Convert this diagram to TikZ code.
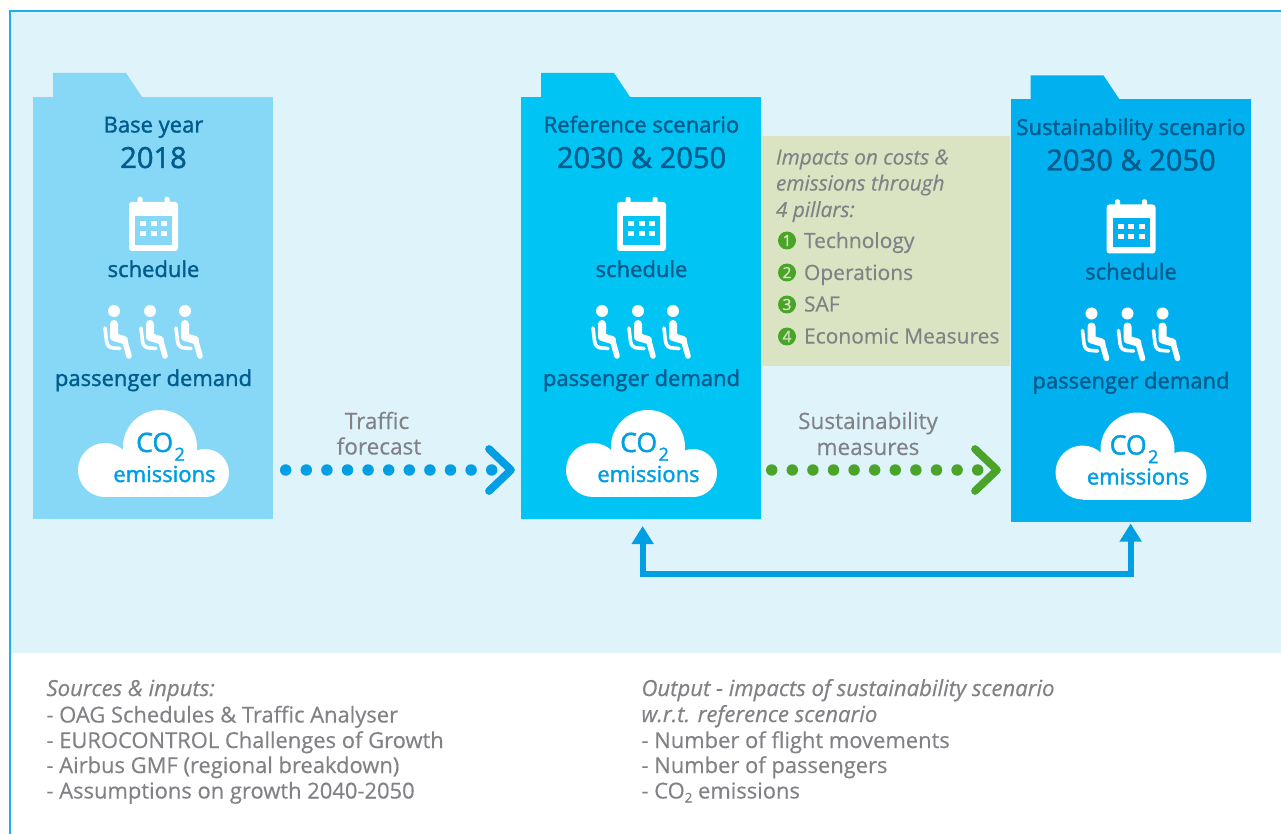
\documentclass[tikz,border=0pt]{standalone}
\usepackage{fontspec}
\setmainfont[FakeBold=0.4]{Open Sans}
\newfontfamily\semi[FakeBold=1.6]{Open Sans}
\usetikzlibrary{arrows.meta,calc}
\definecolor{panel}{HTML}{DFF3FB}
\definecolor{frameblue}{HTML}{1FAEEA}
\definecolor{foldA}{HTML}{87D8F7}
\definecolor{foldB}{HTML}{00C4F4}
\definecolor{foldC}{HTML}{00B0EF}
\definecolor{darktxt}{HTML}{005C8C}
\definecolor{arrowblue}{HTML}{009FE3}
\definecolor{arrowgreen}{HTML}{4BA42A}
\definecolor{greytxt}{HTML}{808285}
\definecolor{sage}{HTML}{DAE4C2}
\tikzset{
  x=0.75pt,y=-0.75pt,
  lbl/.style={anchor=base,inner sep=0pt,outer sep=0pt,align=center},
  head/.style={lbl,text=darktxt,font=\semi\fontsize{16.5}{20}\selectfont},
  year/.style={lbl,text=darktxt,font=\semi\fontsize{21.8}{26}\selectfont},
  item/.style={lbl,text=darktxt,font=\semi\fontsize{16.5}{20}\selectfont},
  co/.style={lbl,text=arrowblue,font=\semi\fontsize{20}{24}\selectfont},
  emis/.style={lbl,text=arrowblue,font=\semi\fontsize{16.5}{20}\selectfont},
  greylbl/.style={lbl,text=greytxt,font=\fontsize{16.9}{20}\selectfont},
  side/.style={lbl,anchor=base west,text=greytxt,font=\fontsize{15.75}{20}\selectfont},
  sidei/.style={side,font=\itshape\fontsize{15.6}{20}\selectfont},
  note/.style={side,font=\fontsize{16.45}{20}\selectfont},
  notei/.style={side,font=\itshape\fontsize{16.6}{20}\selectfont},
  pill/.style={circle,fill=arrowgreen,text=sage,minimum size=13.5pt,inner sep=0pt,font=\semi\fontsize{11.5}{12}\selectfont},
  body/.style={anchor=north west,minimum width=180.2pt,minimum height=316.5pt,inner sep=0pt,outer sep=0pt},
  dotA/.style={circle,fill=arrowblue,minimum size=8.6pt,inner sep=0pt},
  dotB/.style={circle,fill=arrowgreen,minimum size=8.6pt,inner sep=0pt},
  chev/.style={line width=5.8pt,line cap=round,line join=round},
  link/.style={draw=arrowblue,line width=4.5pt,line join=miter,{Triangle[width=15.75pt,length=13.5pt]}-{Triangle[width=15.75pt,length=13.5pt]}},
}
% #1 name, #2 left x, #3 top y, #4 colour, #5 heading, #6 year, #7 cloud text offset
\newcommand{\folder}[7]{%
  \begin{scope}[shift={(#2,#3)}]
    \fill[#4] (20,-24) -- (93,-24) -- (109,0) -- (20,0) -- cycle;
    \node[body,fill=#4] (#1) at (0,0) {};
    \node[head] (#1h) at (120.5,35.5) {#5};
    \node[year] (#1y) at (120.5,71) {#6};
    % calendar
    \fill[white,rounded corners=2.2pt] (96,105) rectangle (145,154);
    \fill[white,rounded corners=1pt] (104.5,100) rectangle (109.5,110);
    \fill[white,rounded corners=1pt] (131.5,100) rectangle (136.5,110);
    \fill[#4] (102,119) rectangle (139,148);
    \foreach \cx in {110,120.5,131}\foreach \cy in {127,137}
      \fill[white] (\cx-3,\cy-2.5) rectangle (\cx+3,\cy+2.5);
    \node[item] (#1s) at (120.5,180) {schedule};
    % seats
    \foreach \sx in {0,36,71}{
      \begin{scope}[shift={(\sx,0)}]
        \fill[white] (81,214) circle (6);
        \draw[white,line width=6pt,line cap=round,line join=round] (81,227) -- (81,240) -- (91,243);
        \draw[white,line width=4.2pt,line cap=round,line join=round] (91.5,243) -- (96,259);
        \draw[white,line width=2.7pt,line cap=round,line join=round] (72,231) -- (73.5,244) .. controls (74,249) and (77,251) .. (81,251) -- (87,251.5);
      \end{scope}}
    \node[item] (#1p) at (120.5,289) {passenger demand};
    % cloud
    \fill[white] (72,373) circle (27);
    \fill[white] (127,350) circle (37);
    \fill[white] (172,376) circle (24);
    \fill[white] (72,376) rectangle (172,400);
    \node[co] (#1c) at (116.5+#7,355) {CO\raisebox{-6.5pt}{\fontsize{13.5}{14}\selectfont\kern1pt 2}};
    \node[emis] (#1e) at (120.5+#7,385) {emissions};
  \end{scope}
}
\begin{document}
\begin{tikzpicture}
\useasboundingbox (0,0) rectangle (1281,834);
\fill[white] (0,0) rectangle (1281,834);
\fill[panel] (10,11) rectangle (1281,653);
\draw[frameblue,line width=1.5pt] (10,834) -- (10,11) -- (1281,11);
% sage box
\fill[sage] (762,136) rectangle (1010,366);
\folder{fa}{33}{97}{foldA}{Base year}{2018}{11}
\folder{fb}{521}{97}{foldB}{Reference scenario}{2030 \& 2050}{7}
\folder{fc}{1010.5}{99.5}{foldC}{Sustainability scenario}{2030 \& 2050}{7}
% pillars
\node[sidei] (t1) at (776,164.5) {Impacts on costs \&};
\node[sidei] (t2) at (776,190.5) {emissions through};
\node[sidei] (t3) at (776,217) {4 pillars:};
\node[pill] (n1) at (787,240.5) {1};
\node[pill] (n2) at (787,272.5) {2};
\node[pill] (n3) at (787,304.5) {3};
\node[pill] (n4) at (787,336.5) {4};
\node[side] (p1) at (804,248) {Technology};
\node[side] (p2) at (804,280) {Operations};
\node[side] (p3) at (804,311.5) {SAF};
\node[side] (p4) at (804,343.5) {Economic Measures};
% flows
\node[greylbl] (tf1) at (377,429) {Traffic};
\node[greylbl] (tf2) at (379,454.5) {forecast};
\node[greylbl] (sm1) at (868,429) {Sustainability};
\node[greylbl] (sm2) at (868,455) {measures};
\foreach \i in {0,...,10}
  \node[dotA] (da\i) at (285.7+20.6*\i,470) {};
\foreach \i in {0,...,10}
  \node[dotB] (db\i) at (771.7+20.6*\i,470) {};
\coordinate (caT) at (489,449);
\coordinate (caM) at (511,470);
\coordinate (caB) at (489,491);
\coordinate (cbT) at (975,449);
\coordinate (cbM) at (997,470);
\coordinate (cbB) at (975,491);
\draw[chev,arrowblue] (caT) -- (caM) -- (caB);
\draw[chev,arrowgreen] (cbT) -- (cbM) -- (cbB);
% feedback link
\draw[link] ($(fb.south)+(1.5,7)$) -- ++(0,47.5) -| ($(fc.south)+(0,2)$);
% notes
\node[notei] (sa) at (46.5,696) {Sources \& inputs:};
\node[note] (sb) at (46.5,722.5) {- OAG Schedules \& Traffic Analyser};
\node[note] (sc) at (46.5,748) {- EUROCONTROL Challenges of Growth};
\node[note] (sd) at (46.5,773) {- Airbus GMF (regional breakdown)};
\node[note] (se) at (46.5,798.5) {- Assumptions on growth 2040-2050};
\node[notei] (oa) at (641.5,696) {Output - impacts of sustainability scenario};
\node[notei] (ob) at (641.5,722) {w.r.t. reference scenario};
\node[note] (oc) at (641.5,748) {- Number of flight movements};
\node[note] (od) at (641.5,773) {- Number of passengers};
\node[note] (oe) at (641.5,798.5) {- CO\raisebox{-3pt}{\fontsize{10}{10}\selectfont 2} emissions};
\end{tikzpicture}
\end{document}
